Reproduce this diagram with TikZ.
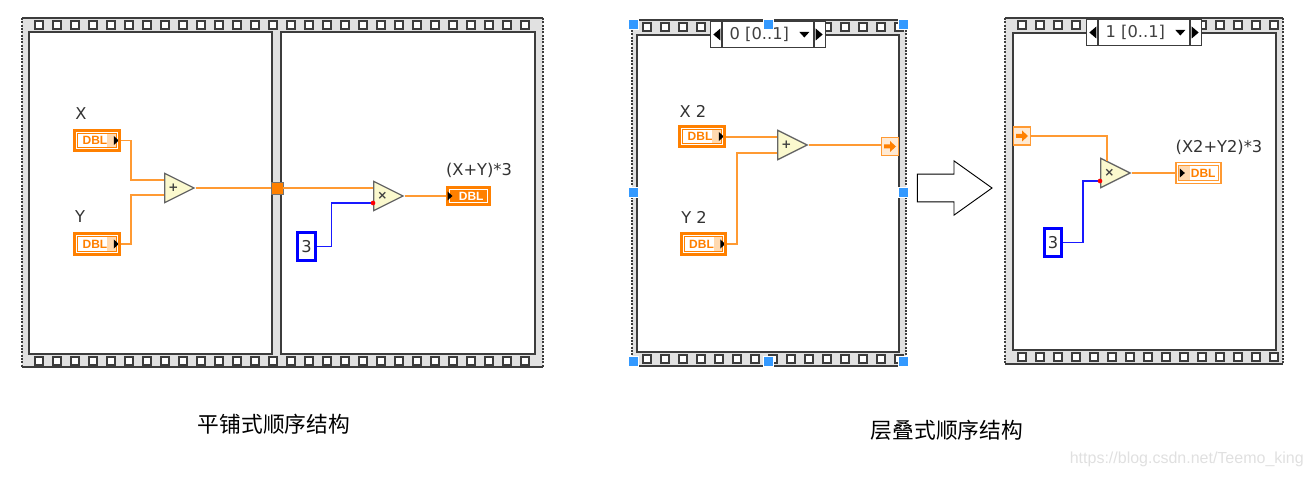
\documentclass[tikz,border=0pt]{standalone}
\usepackage{fontspec}
\setmainfont{DejaVu Sans}
\newfontfamily\cjk{Noto Sans CJK SC}
\newfontfamily\dblfont{Liberation Sans}
\newfontfamily\markfont{Liberation Sans}
\usetikzlibrary{arrows,shapes,positioning}
\usetikzlibrary{calc}
\definecolor{wireor}{HTML}{FF9A33}
\definecolor{lvor}{HTML}{FF8000}
\definecolor{lvpale}{HTML}{FFD9B0}
\definecolor{stripe}{HTML}{E1E1E1}
\definecolor{edge}{HTML}{3C3C3C}
\definecolor{selblue}{HTML}{3399FF}
\definecolor{primfill}{HTML}{FBF9CE}

\begin{document}
\begin{tikzpicture}[x=0.75pt, y=-0.75pt]
        \tikzstyle{wire} = [draw=wireor, line width=1.2pt]
        \tikzstyle{numwire} = [draw=blue!90, line width=1.2pt]
        \tikzstyle{panel} = [draw=edge, fill=white, line width=1.2pt]
        \tikzstyle{hole} = [draw=edge, fill=white, line width=1.1pt]
        \tikzstyle{handle} = [draw=white, fill=selblue, line width=0.5pt]
        \tikzstyle{lbl} = [inner sep=0pt, text=black!80, font=\fontsize{12.2}{14}\selectfont]
        \tikzstyle{caption} = [inner sep=0pt, font=\cjk\fontsize{16.3}{20}\selectfont]
        \tikzstyle{prim} = [isosceles triangle, isosceles triangle stretches,
                            draw=black!60, fill=primfill, line width=1pt, inner sep=0pt,
                            minimum height=22pt, minimum width=22pt, anchor=lower side,
                            text=black!75, font=\bfseries\fontsize{9}{9}\selectfont]
        \tikzstyle{dbl} = [rectangle, inner sep=0pt, fill=white,
                           font=\dblfont\bfseries\fontsize{9}{9}\selectfont]
        \tikzstyle{ctrl} = [dbl, draw=lvor, line width=2.2pt, text=lvor,
                            minimum width=33.5pt, minimum height=15.5pt, text depth=0pt,
                            path picture={
                              \fill[lvpale] ($(path picture bounding box.north east)+(-12,3)$)
                                rectangle ($(path picture bounding box.south east)+(-3,-3)$);
                              \draw[lvor, line width=0.8pt] ($(path picture bounding box.north west)+(3,3)$)
                                rectangle ($(path picture bounding box.south east)+(-3,-3)$);
                              \fill[black] ($(path picture bounding box.east)+(-5.5,-4.5)$)
                                -- ++(5,4.5) -- ++(-5,4.5) -- cycle;
                            }]
        \tikzstyle{indr} = [dbl, draw=lvor, fill=lvor, line width=1pt, text=white,
                            minimum width=33pt, minimum height=14pt,
                            path picture={
                              \draw[white, line width=0.8pt] ($(path picture bounding box.north west)+(3,3)$)
                                rectangle ($(path picture bounding box.south east)+(-3,-3)$);
                              \fill[black] ($(path picture bounding box.west)+(1,-4.5)$)
                                -- ++(5,4.5) -- ++(-5,4.5) -- cycle;
                            }]
        \tikzstyle{indrpale} = [dbl, draw=wireor, line width=1.1pt, text=lvor,
                                minimum width=34pt, minimum height=16pt,
                                path picture={
                                  \fill[lvpale] ($(path picture bounding box.north west)+(3,3)$)
                                    rectangle ($(path picture bounding box.south west)+(14,-3)$);
                                  \draw[wireor, line width=0.8pt] ($(path picture bounding box.north west)+(3,3)$)
                                    rectangle ($(path picture bounding box.south east)+(-3,-3)$);
                                  \fill[black] ($(path picture bounding box.west)+(4,-4.5)$)
                                    -- ++(5,4.5) -- ++(-5,4.5) -- cycle;
                                }]
        \tikzstyle{const} = [rectangle, draw=blue, fill=white, line width=2.2pt, inner sep=0pt,
                             minimum width=13pt, minimum height=20.5pt, text=black!80,
                             font=\fontsize{12.2}{14}\selectfont]
        \tikzstyle{coerce} = [circle, fill=red, inner sep=0pt, minimum size=3.5pt]
        \tikzstyle{tunnel} = [rectangle, draw=black!55, fill=lvor, line width=0.6pt,
                              inner sep=0pt, minimum size=9pt]
        \tikzstyle{seqtunnel} = [rectangle, draw=wireor, fill=lvpale!55, line width=1pt,
                                 inner sep=0pt, minimum width=12.5pt, minimum height=13.5pt,
                                 path picture={
                                   \fill[lvor] ($(path picture bounding box.center)+(-6,-2)$)
                                     -- ++(6,0) -- ++(0,-3.5) -- ++(6,5.5) -- ++(-6,5.5)
                                     -- ++(0,-3.5) -- ++(-6,0) -- cycle;
                                 }]
        \tikzstyle{selmid} = [rectangle, draw=edge, fill=white, line width=1pt, inner sep=0pt,
                              minimum width=68pt, minimum height=19.5pt, text=black!75,
                              font=\fontsize{12.2}{14}\selectfont,
                              path picture={
                                \fill[black] ($(path picture bounding box.east)+(-14,-2.5)$)
                                  -- ++(10,0) -- ++(-5,5.5) -- cycle;
                              }]
        \tikzstyle{selleft} = [rectangle, draw=edge, fill=white, line width=1pt, inner sep=0pt,
                               minimum width=8pt, minimum height=19.5pt,
                               path picture={
                                 \fill[black] ($(path picture bounding box.east)+(-1,-6)$)
                                   -- ++(-7,6) -- ++(7,6) -- cycle;
                               }]
        \tikzstyle{selright} = [rectangle, draw=edge, fill=white, line width=1pt, inner sep=0pt,
                                minimum width=8pt, minimum height=19.5pt,
                                path picture={
                                  \fill[black] ($(path picture bounding box.west)+(1,-6)$)
                                    -- ++(7,6) -- ++(-7,6) -- cycle;
                                }]
        \useasboundingbox (0,0) rectangle (1312,477);
        \foreach \xa/\ya/\xb/\yb in {22/18/543/367, 632/20/906/366, 1005/18/1283/364} {
          \fill[stripe] (\xa,\ya) rectangle (\xb,\yb);
          \draw[edge, line width=1pt] (\xa,\ya) -- (\xb,\ya) (\xa,\yb) -- (\xb,\yb);
          \draw[edge, line width=1.5pt, densely dotted] (\xa,\ya) -- (\xa,\yb) (\xb,\ya) -- (\xb,\yb);
        }
        \foreach \xs/\cnt/\yt/\yb in {39/27/25/361, 647/14/27/359, 1022/14/25/357} {
          \foreach \n in {0,...,\cnt} {
            \draw[hole] (\xs+18*\n,\yt) ++(-4,-4) rectangle ++(8,8);
            \draw[hole] (\xs+18*\n,\yb) ++(-4,-4) rectangle ++(8,8);
          }
        }
        \draw[panel] (29,32) rectangle (272,354);
        \draw[panel] (281,32) rectangle (535,354);
        \draw[panel] (637,35) rectangle (899,352);
        \draw[panel] (1013,33) rectangle (1276,350);

        \node[ctrl] (x1) at (97,140.5) {\hspace*{-3pt}DBL};
        \node[ctrl] (y1) at (97,244) {\hspace*{-3pt}DBL};
        \node[lbl] (x1lab) at (81,114) {X};
        \node[lbl] (y1lab) at (80,217) {Y};
        \node[prim] (add1) at (164,188) {+};
        \coordinate (add1a) at ($(add1.lower side)+(0,-8)$);
        \coordinate (add1b) at ($(add1.lower side)+(0,7)$);
        \path[wire] (x1.east) -- ++(10,0) |- (add1a);
        \path[wire] (y1.east) -- ++(10,0) |- (add1b);
        \node[tunnel] (flat) at (277,188) {};
        \path[wire] (add1.apex) -- (add1.apex -| flat.west);
        \node[prim] (mul1) at (373,196) {×};
        \coordinate (mul1a) at ($(mul1.lower side)+(0,-8)$);
        \coordinate (mul1b) at ($(mul1.lower side)+(0,7)$);
        \path[wire] (mul1a -| flat.east) -- (mul1a);
        \node[const] (three1) at (306.5,246.5) {3};
        \path[numwire] (three1.east) -- ++(15,0) |- (mul1b);
        \node[coerce] (red1) at (mul1b) {};
        \node[indr] (res1) at (468.5,196) {\hspace*{4pt}DBL};
        \node[lbl] (res1lab) at (479,170) {(X+Y)*3};
        \path[wire] (mul1.apex) -- (mul1.apex -| res1.west);

        \node[ctrl] (x2) at (702,136.5) {\hspace*{-3pt}DBL};
        \node[ctrl] (y2) at (703.5,244) {\hspace*{-3pt}DBL};
        \node[lbl] (x2lab) at (693,111) {X 2};
        \node[lbl] (y2lab) at (694,217) {Y 2};
        \node[prim] (add2) at (777,145) {+};
        \coordinate (add2a) at ($(add2.lower side)+(0,-8)$);
        \coordinate (add2b) at ($(add2.lower side)+(0,8)$);
        \path[wire] (add2a -| x2.east) -- (add2a);
        \path[wire] (y2.east) -- ++(9.5,0) |- (add2b);
        \node[seqtunnel] (out2) at (890,146.5) {};
        \path[wire] (add2.apex) -- (add2.apex -| out2.west);

        \node[seqtunnel] (in3) at (1022,136) {};
        \node[prim] (mul3) at (1100,173) {×};
        \coordinate (mul3a) at ($(mul3.lower side)+(7,-11.5)$);
        \coordinate (mul3b) at ($(mul3.lower side)+(0,8)$);
        \path[wire] (in3.east) -| (mul3a);
        \node[const] (three3) at (1053,242.5) {3};
        \path[numwire] (three3.east) -- ++(20,0) |- (mul3b);
        \node[coerce] (red3) at (mul3b) {};
        \node[indrpale] (res3) at (1198.5,173) {\hspace*{7pt}DBL};
        \node[lbl] (res3lab) at (1219,147) {(X2+Y2)*3};
        \path[wire] (mul3.apex) -- (mul3.apex -| res3.west);

        \node[selmid] (sel2) at (768,34.5) {\hspace*{-13pt}0 [0..1]};
        \node[selleft, left=0pt of sel2] (sel2l) {};
        \node[selright, right=0pt of sel2] (sel2r) {};
        \node[selmid] (sel3) at (1144,32.5) {\hspace*{-13pt}1 [0..1]};
        \node[selleft, left=0pt of sel3] (sel3l) {};
        \node[selright, right=0pt of sel3] (sel3r) {};

        \foreach \hx/\hy in {633/24, 768/24, 903/24, 633/192, 903/192, 633/361, 768/361, 903/361} {
          \draw[handle] (\hx,\hy) ++(-5,-5) rectangle ++(10,10);
        }

        \node[single arrow, draw=black, fill=white, line width=0.7pt,
              inner xsep=0pt, inner ysep=10pt,
              minimum height=56pt, minimum width=40.5pt,
              single arrow head extend=10pt, single arrow tip angle=71] (next) at (945,188) {};

        \node[caption] (flatcap) at (274,424) {平铺式顺序结构};
        \node[caption] (stackcap) at (947,430) {层叠式顺序结构};
        \node[inner sep=0pt, anchor=east, text=black!12,
              font=\markfont\fontsize{12}{13}\selectfont] (mark) at (1304,459)
          {https://blog.csdn.net/Teemo\_king};
      \end{tikzpicture}
\end{document}
